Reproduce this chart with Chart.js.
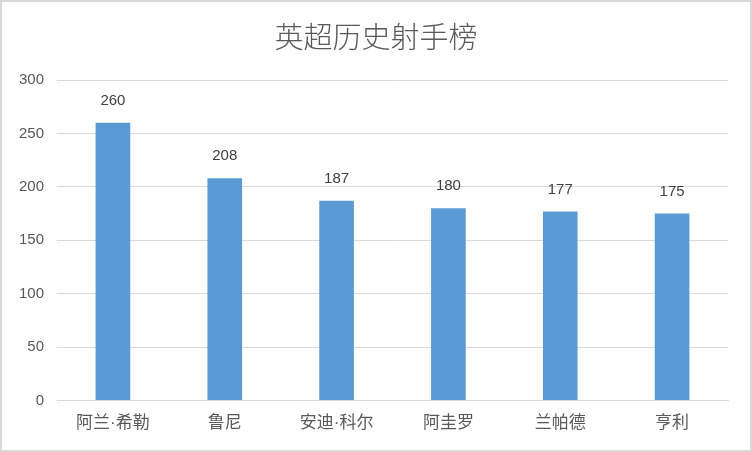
<!DOCTYPE html>
<html>
<head>
<meta charset="utf-8">
<script src="https://cdn.jsdelivr.net/npm/chart.js"></script>
<style>
    html, body { margin: 0; padding: 0; background: #fff; }
    #wrap {
        width: 748px;
        height: 448px;
        border: 2px solid #d9d9d9;
        background: #fff;
    }
</style>
</head>
<body>
<div id="wrap"><canvas id="chart" width="748" height="448"></canvas></div>
<script>
const chartTitle = '英超历史射手榜';
const players = ['阿兰·希勒', '鲁尼', '安迪·科尔', '阿圭罗', '兰帕德', '亨利'];
const goals = [260, 208, 187, 180, 177, 175];
const yTicks = [0, 50, 100, 150, 200, 250, 300];

const cjk = '"Noto Sans CJK SC", "Noto Sans", sans-serif';
const num = '"Liberation Sans", Arial, "Noto Sans CJK SC", sans-serif';

// title centred on the whole canvas, value labels above each bar
const extras = {
    id: 'extras',
    afterDatasetsDraw(chart) {
        const ctx = chart.ctx;
        const meta = chart.getDatasetMeta(0);
        ctx.save();
        ctx.textAlign = 'center';
        ctx.textBaseline = 'middle';
        ctx.fillStyle = '#595959';
        ctx.font = '300 29px ' + cjk;
        ctx.fillText(chartTitle, chart.width / 2, 35);
        ctx.fillStyle = '#404040';
        ctx.font = '15px ' + num;
        meta.data.forEach((bar, i) => {
            ctx.fillText(goals[i], bar.x, bar.y - 22);
        });
        ctx.restore();
    }
};

new Chart(document.getElementById('chart'), {
    type: 'bar',
    data: {
        labels: players,
        datasets: [{
            data: goals,
            backgroundColor: '#5b9bd5',
            barPercentage: 0.31,
            categoryPercentage: 1
        }]
    },
    options: {
        responsive: false,
        animation: false,
        layout: { padding: { left: 0, right: 22, top: 78, bottom: 11 } },
        plugins: {
            legend: { display: false },
            tooltip: { enabled: false },
            title: { display: false }
        },
        scales: {
            x: {
                grid: { display: false },
                border: { color: '#d9d9d9' },
                ticks: {
                    color: '#595959',
                    font: { family: num, size: 17 },
                    padding: 5
                }
            },
            y: {
                min: 0,
                max: 300,
                afterBuildTicks: s => { s.ticks = yTicks.map(v => ({ value: v })); },
                afterFit: s => { s.width = 55; },
                grid: { color: '#d9d9d9', drawTicks: false },
                border: { display: false },
                ticks: {
                    color: '#595959',
                    font: { family: num, size: 15 },
                    padding: 13
                }
            }
        }
    },
    plugins: [extras]
});
</script>
</body>
</html>
